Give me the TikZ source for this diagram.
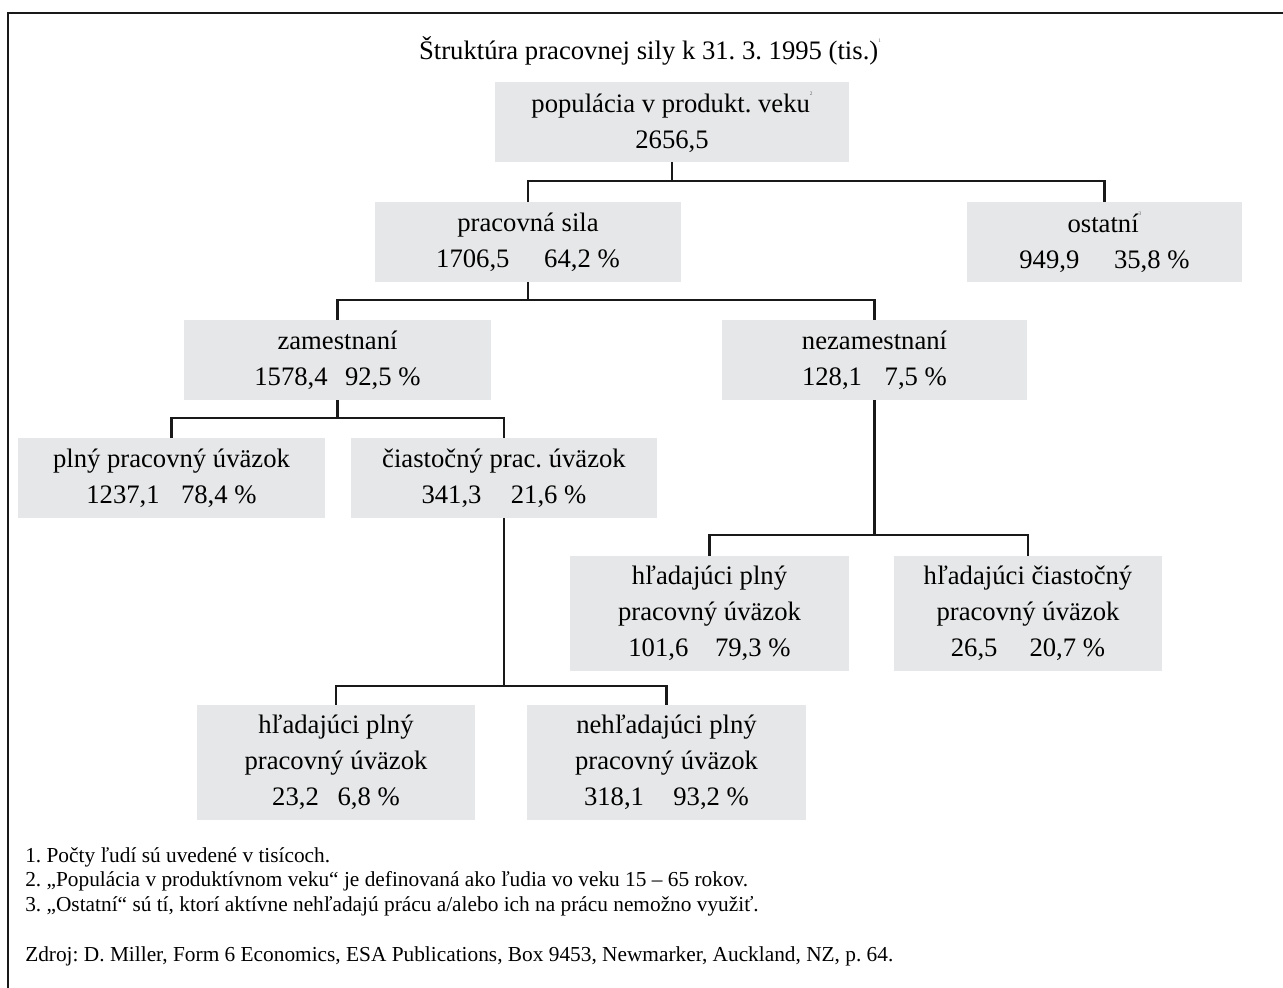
\documentclass[tikz,border=0pt]{standalone}
\usepackage{fontspec}
\setmainfont{Liberation Serif}
\frenchspacing
\definecolor{boxgray}{RGB}{230,231,232}
\newcommand\boxfont{\fontsize{20}{27}\selectfont}
\newcommand\notefont{\fontsize{16}{18.75}\selectfont}
\newcommand\fnmark[1]{\raisebox{1.4ex}{\fontsize{4}{4}\selectfont\color{black!60}#1}}
\tikzset{
  box/.style={fill=boxgray, inner sep=0pt, align=center, font=\boxfont},
  sz/.style 2 args={minimum width=#1*0.75pt, minimum height=#2*0.75pt},
  conn/.style={line width=2pt, draw=black!90},
  note/.style={anchor=west, inner sep=0pt, font=\notefont}
}
\begin{document}
\begin{tikzpicture}[x=0.75pt,y=-0.75pt]
\useasboundingbox (0,0) rectangle (1283,988);
\draw[line width=2pt, draw=black!90] (8,988) -- (8,13) -- (1283,13);

\node[font=\boxfont, inner sep=0pt] (title) at (650,51) {Štruktúra pracovnej sily k 31. 3. 1995 (tis.)\fnmark{1}};

\node[box, sz={354}{80}] (pop) at (672,122) {populácia v produkt. veku\fnmark{2}\\2656,5};
\node[box, sz={306}{80}] (ps) at (528,242) {pracovná sila\\1706,5\hspace{26pt}64,2 \%};
\node[box, sz={275}{80}] (ost) at (1104.5,242) {ostatní\fnmark{3}\\949,9\hspace{26pt}35,8 \%};
\node[box, sz={307}{80}] (zam) at (337.5,360) {zamestnaní\\1578,4\hspace{13pt}92,5 \%};
\node[box, sz={305}{80}] (nez) at (874.5,360) {nezamestnaní\\128,1\hspace{17pt}7,5 \%};
\node[box, sz={307}{80}] (plny) at (171.5,478) {plný pracovný úväzok\\1237,1\hspace{16pt}78,4 \%};
\node[box, sz={306}{80}] (ciast) at (504,478) {čiastočný prac. úväzok\\341,3\hspace{22pt}21,6 \%};
\node[box, sz={279}{115}] (hp1) at (709.5,613.5) {hľadajúci plný\\pracovný úväzok\\101,6\hspace{20pt}79,3 \%};
\node[box, sz={268}{115}] (hc1) at (1028,613.5) {hľadajúci čiastočný\\pracovný úväzok\\26,5\hspace{24pt}20,7 \%};
\node[box, sz={278}{115}] (hp2) at (336,762.5) {hľadajúci plný\\pracovný úväzok\\23,2\hspace{14pt}6,8 \%};
\node[box, sz={279}{115}] (neh) at (666.5,762.5) {nehľadajúci plný\\pracovný úväzok\\318,1\hspace{22pt}93,2 \%};

\coordinate (b1) at (672,181);
\coordinate (b2) at (528,300);
\coordinate (b3) at (337.5,418);
\coordinate (b4) at (874.5,535);
\coordinate (b5) at (504,686);

\draw[conn] (pop.south) -- (b1);
\draw[conn] (ps.north) |- (b1) -| (ost.north);
\draw[conn] (ps.south) -- (b2);
\draw[conn] (zam.north) |- (b2) -| (nez.north);
\draw[conn] (zam.south) -- (b3);
\draw[conn] (plny.north) |- (b3) -| (ciast.north);
\draw[conn] (nez.south) -- (b4);
\draw[conn] (hp1.north) |- (b4) -| (hc1.north);
\draw[conn] (ciast.south) -- (b5);
\draw[conn] (hp2.north) |- (b5) -| (neh.north);

\node[note] (f1) at (25,857) {1. Počty ľudí sú uvedené v tisícoch.};
\node[note] (f2) at (25,881.5) {2. „Populácia v produktívnom veku“ je definovaná ako ľudia vo veku 15 – 65 rokov.};
\node[note] (f3) at (25,906) {3. „Ostatní“ sú tí, ktorí aktívne nehľadajú prácu a/alebo ich na prácu nemožno využiť.};
\node[note] (src) at (25,956) {Zdroj: D. Miller, Form 6 Economics, ESA Publications, Box 9453, Newmarker, Auckland, NZ, p. 64.};
\end{tikzpicture}
\end{document}
